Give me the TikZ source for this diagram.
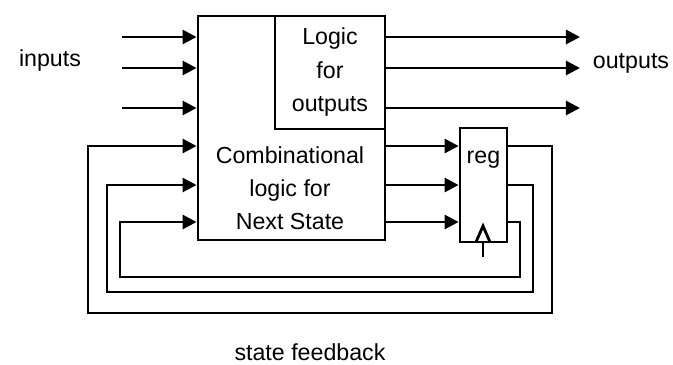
\documentclass[tikz,border=0pt]{standalone}
\usepackage{fontspec}
\setmainfont{Liberation Sans}
\usepackage{tikz}
\usetikzlibrary{positioning, arrows.meta}

\tikzset{
  blockbox/.style={draw, line width=2pt, inner sep=0pt},
  lbl/.style={font=\fontsize{16.5}{23.5}\selectfont, align=center, inner sep=0pt},
  wire/.style={line width=2pt},
  arr/.style={wire, -{Triangle[length=10pt, width=10pt]}},
}

\begin{document}
\begin{tikzpicture}[x=0.025cm, y=-0.025cm]
  \useasboundingbox (0,0) rectangle (673,364);

  % blocks
  \node[blockbox, minimum width=4.675cm, minimum height=5.6cm] (comb) at (291.5,128) {};
  \node[blockbox, minimum width=2.75cm, minimum height=2.825cm] (outlog) at (330,72.5) {};
  \node[blockbox, minimum width=1.175cm, minimum height=2.85cm] (reg) at (483.5,185) {};

  \node[lbl] (outtxt) at (330,72) {Logic\\for\\outputs};
  \node[lbl] (combtxt) at (290,188) {Combinational\\logic for\\Next State};
  \node[lbl, below=0.6cm of reg.north] (regtxt) {reg};

  % clock
  \draw[wire] (476,242) -- (483,226) -- (490,242);
  \draw[wire] (483,242) -- (483,257);

  % inputs
  \foreach \y [count=\i] in {37,68,108} {
    \coordinate (in\i) at (122,\y);
    \draw[arr] (in\i) -- (in\i -| comb.west);
  }
  \node[lbl] (inputs) at (50,60) {inputs};

  % outputs
  \foreach \y [count=\i] in {37,68,108} {
    \coordinate (out\i) at (580,\y);
    \draw[arr] (out\i -| outlog.east) -- (out\i);
  }
  \node[lbl] (outputs) at (631,63) {outputs};

  % next state into reg
  \foreach \y [count=\i] in {146,185,222} {
    \coordinate (ns\i) at (385,\y);
    \draw[arr] (ns\i -| comb.east) -- (ns\i -| reg.west);
  }

  % state feedback
  \coordinate (q1) at (507,146);
  \coordinate (q2) at (507,185);
  \coordinate (q3) at (507,222);
  \draw[arr] (q1 -| reg.east) -- (552,146) -- (552,313) -- (88,313) -- (88,146) -- (q1 -| comb.west);
  \draw[arr] (q2 -| reg.east) -- (533,185) -- (533,292) -- (107,292) -- (107,185) -- (q2 -| comb.west);
  \draw[arr] (q3 -| reg.east) -- (520,222) -- (520,277) -- (120,277) -- (120,222) -- (q3 -| comb.west);
  \node[lbl] (fbtxt) at (310,352) {state feedback};
\end{tikzpicture}
\end{document}
